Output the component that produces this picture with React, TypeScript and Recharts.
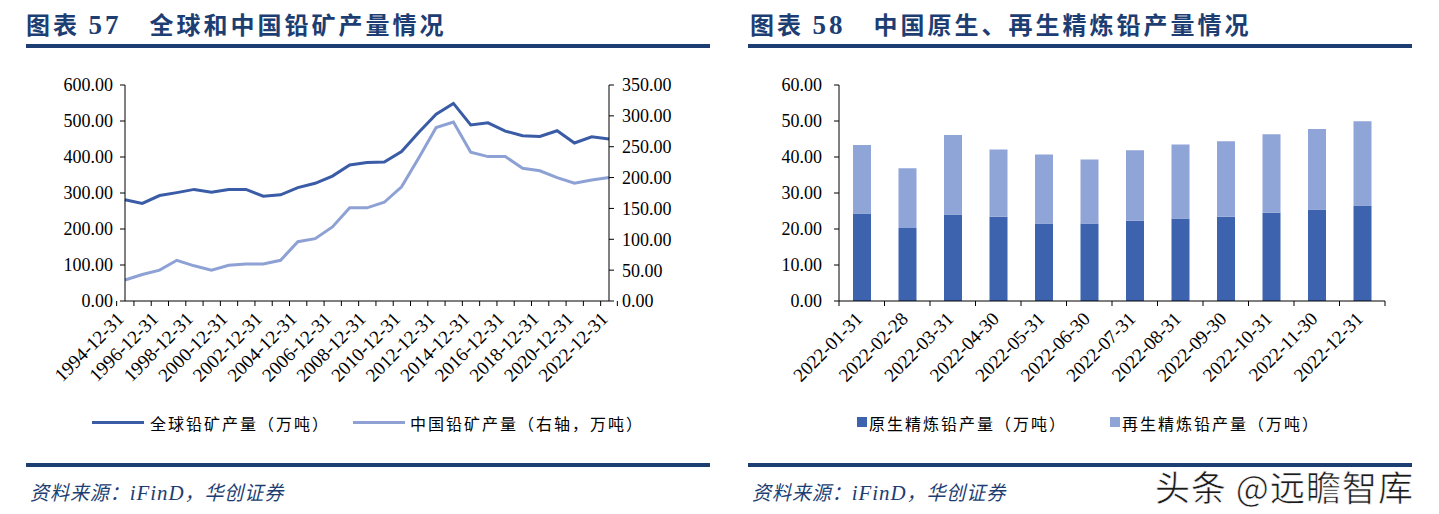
import React from "react";
import {
  ComposedChart,
  Line,
  Bar,
  XAxis,
  YAxis,
} from "recharts";

// 图表57：全球和中国铅矿产量
const years = [
  "1994-12-31", "1995-12-31", "1996-12-31", "1997-12-31", "1998-12-31",
  "1999-12-31", "2000-12-31", "2001-12-31", "2002-12-31", "2003-12-31",
  "2004-12-31", "2005-12-31", "2006-12-31", "2007-12-31", "2008-12-31",
  "2009-12-31", "2010-12-31", "2011-12-31", "2012-12-31", "2013-12-31",
  "2014-12-31", "2015-12-31", "2016-12-31", "2017-12-31", "2018-12-31",
  "2019-12-31", "2020-12-31", "2021-12-31", "2022-12-31",
];
const globalOutput = [
  281, 271, 293, 301, 310, 302, 310, 310, 291, 295, 315, 327, 347, 378, 385,
  386, 415, 469, 519, 549, 489, 495, 472, 459, 457, 473, 439, 456, 450,
];
const chinaOutput = [
  34, 43, 50, 66, 57, 50, 58, 60, 60, 66, 96, 101, 120, 151, 151, 160, 185,
  232, 281, 290, 241, 234, 234, 215, 211, 200, 191, 196, 200,
];
const leftTicks = [0, 100, 200, 300, 400, 500, 600];
const rightTicks = [0, 50, 100, 150, 200, 250, 300, 350];

// 图表58：原生、再生精炼铅产量
const months = [
  "2022-01-31", "2022-02-28", "2022-03-31", "2022-04-30", "2022-05-31",
  "2022-06-30", "2022-07-31", "2022-08-31", "2022-09-30", "2022-10-31",
  "2022-11-30", "2022-12-31",
];
const primaryLead = [24.3, 20.3, 24.0, 23.4, 21.5, 21.5, 22.3, 22.9, 23.4, 24.5, 25.4, 26.5];
const recycledLead = [19.0, 16.6, 22.1, 18.7, 19.2, 17.8, 19.6, 20.6, 21.0, 21.8, 22.4, 23.4];
const barTicks = [0, 10, 20, 30, 40, 50, 60];

const lineData = years.map((name, i) => ({
  name,
  global: globalOutput[i],
  china: chinaOutput[i],
}));
const barData = months.map((name, i) => ({
  name,
  primary: primaryLead[i],
  recycled: recycledLead[i],
}));

const DARK = "#3A5BA6";
const LIGHT = "#8DA1D5";
const NAVY = "#1D3E72";
const SERIF = "'Liberation Serif', 'Times New Roman', serif";
const CJK = "'Noto Sans CJK SC', 'Noto Sans', sans-serif";

// 左图绘图区
const L_W = 720, L_H = 400, L_TOP = 85, L_LEFT = 125, L_RIGHT = 609, L_BOTTOM = 301;
const L_BAND = (L_RIGHT - L_LEFT) / years.length;
// 右图绘图区
const R_W = 700, R_H = 400, R_X = 720, R_LEFT = 839, R_RIGHT = 1385;
const R_BAND = (R_RIGHT - R_LEFT) / months.length;

const tickText = { fill: "#000", fontSize: 18, fontFamily: SERIF };
const fmt = (v: number) => v.toFixed(2);

const makeTick = (band: number, count: number, every: number, dx: number) => (props: any) => {
  const { x, y, payload, index } = props;
  const axisY = y - 5;
  const half = band / 2;
  return (
    <g>
      <line x1={x - half} x2={x - half} y1={axisY} y2={axisY + 5} stroke="#000" />
      {index === count - 1 && (
        <line x1={x + half} x2={x + half} y1={axisY} y2={axisY + 5} stroke="#000" />
      )}
      {index % every === 0 && (
        <text
          transform={`translate(${x + dx},${axisY + 19}) rotate(-45)`}
          textAnchor="end"
          fill="#000"
          fontSize={19}
          fontFamily={SERIF}
        >
          {payload.value}
        </text>
      )}
    </g>
  );
};

const YearTick = makeTick(L_BAND, years.length, 2, 0);
const MonthTick = makeTick(R_BAND, months.length, 1, 2);

const Title = ({ x, num, text }: { x: number; num: string; text: string }) => (
  <div
    style={{
      position: "absolute",
      left: x,
      top: 6,
      color: NAVY,
      fontFamily: CJK,
      fontWeight: 700,
      fontSize: 24,
      whiteSpace: "nowrap",
      letterSpacing: 3,
    }}
  >
    图表 <span style={{ fontFamily: SERIF, fontSize: 27 }}>{num}</span>
    <span style={{ marginLeft: 28 }}>{text}</span>
  </div>
);

const Rule = ({ x, w, y }: { x: number; w: number; y: number }) => (
  <div style={{ position: "absolute", left: x, top: y, width: w, height: 4, background: NAVY }} />
);

const Source = ({ x }: { x: number }) => (
  <div
    style={{
      position: "absolute",
      left: x,
      top: 479,
      color: NAVY,
      fontFamily: CJK,
      fontStyle: "italic",
      fontSize: 20,
      lineHeight: "26px",
      letterSpacing: 1,
      whiteSpace: "nowrap",
      transform: "scaleX(0.95)",
      transformOrigin: "left",
    }}
  >
    资料来源：<span style={{ fontFamily: SERIF, fontSize: 22 }}>iFinD</span>，华创证券
  </div>
);

const legendText = {
  position: "absolute" as const,
  top: 411,
  fontFamily: CJK,
  fontSize: 16,
  letterSpacing: 2,
  color: "#000",
  whiteSpace: "nowrap" as const,
};

export default function App() {
  return (
    <div
      style={{
        position: "absolute",
        left: 0,
        top: 0,
        width: 1439,
        height: 514,
        background: "#fff",
        overflow: "hidden",
      }}
    >
      <Title x={26} num="57" text="全球和中国铅矿产量情况" />
      <Title x={750} num="58" text="中国原生、再生精炼铅产量情况" />
      <Rule x={26} w={684} y={44} />
      <Rule x={748} w={664} y={44} />

      <div style={{ position: "absolute", left: 0, top: 0 }}>
        <ComposedChart
          width={L_W}
          height={L_H}
          data={lineData}
          margin={{ top: L_TOP, right: 0, left: 0, bottom: 0 }}
        >
          <XAxis
            dataKey="name"
            height={L_H - L_BOTTOM}
            interval={0}
            tickSize={5}
            tickMargin={0}
            tickLine={false}
            axisLine={{ stroke: "#000" }}
            tick={YearTick}
          />
          <YAxis
            yAxisId="left"
            width={L_LEFT}
            domain={[0, 600]}
            ticks={leftTicks}
            tickFormatter={fmt}
            tickSize={5}
            tickMargin={7}
            axisLine={{ stroke: "#000" }}
            tickLine={{ stroke: "#000" }}
            tick={tickText}
          />
          <YAxis
            yAxisId="right"
            orientation="right"
            width={L_W - L_RIGHT}
            domain={[0, 350]}
            ticks={rightTicks}
            tickFormatter={fmt}
            tickSize={5}
            tickMargin={8}
            axisLine={{ stroke: "#000" }}
            tickLine={{ stroke: "#000" }}
            tick={{ ...tickText, textAnchor: "start" }}
          />
          <Line
            yAxisId="left"
            dataKey="global"
            stroke={DARK}
            strokeWidth={3}
            dot={false}
            isAnimationActive={false}
          />
          <Line
            yAxisId="right"
            dataKey="china"
            stroke={LIGHT}
            strokeWidth={3}
            dot={false}
            isAnimationActive={false}
          />
        </ComposedChart>
      </div>

      <div style={{ position: "absolute", left: R_X, top: 0 }}>
        <ComposedChart
          width={R_W}
          height={R_H}
          data={barData}
          margin={{ top: L_TOP, right: R_X + R_W - R_RIGHT, left: 0, bottom: 0 }}
        >
          <XAxis
            dataKey="name"
            height={R_H - L_BOTTOM}
            interval={0}
            tickSize={5}
            tickMargin={0}
            tickLine={false}
            axisLine={{ stroke: "#000" }}
            tick={MonthTick}
          />
          <YAxis
            width={R_LEFT - R_X}
            domain={[0, 60]}
            ticks={barTicks}
            tickFormatter={fmt}
            tickSize={5}
            tickMargin={12}
            axisLine={{ stroke: "#000" }}
            tickLine={{ stroke: "#000" }}
            tick={tickText}
          />
          <Bar dataKey="primary" stackId="a" fill="#3D62AE" barSize={18} isAnimationActive={false} />
          <Bar dataKey="recycled" stackId="a" fill="#8FA4D7" barSize={18} isAnimationActive={false} />
        </ComposedChart>
      </div>

      {/* 左图图例 */}
      <div style={{ position: "absolute", left: 92, top: 421, width: 52, height: 3, background: DARK }} />
      <div style={{ ...legendText, left: 150 }}>全球铅矿产量（万吨）</div>
      <div style={{ position: "absolute", left: 353, top: 421, width: 52, height: 3, background: LIGHT }} />
      <div style={{ ...legendText, left: 410 }}>中国铅矿产量（右轴，万吨）</div>

      {/* 右图图例 */}
      <div style={{ position: "absolute", left: 857, top: 417, width: 10, height: 10, background: "#3D62AE" }} />
      <div style={{ ...legendText, left: 869 }}>原生精炼铅产量（万吨）</div>
      <div style={{ position: "absolute", left: 1110, top: 417, width: 10, height: 10, background: "#8FA4D7" }} />
      <div style={{ ...legendText, left: 1122 }}>再生精炼铅产量（万吨）</div>

      <Rule x={26} w={684} y={463} />
      <Rule x={748} w={664} y={463} />
      <Source x={30} />
      <Source x={752} />

      <div
        style={{
          position: "absolute",
          left: 1155,
          top: 466,
          fontFamily: CJK,
          fontSize: 35,
          lineHeight: "40px",
          color: "#1a1a1a",
          whiteSpace: "nowrap",
          letterSpacing: 1,
          WebkitTextStroke: "0.6px #fff",
        }}
      >
        头条 @远瞻智库
      </div>
    </div>
  );
}
